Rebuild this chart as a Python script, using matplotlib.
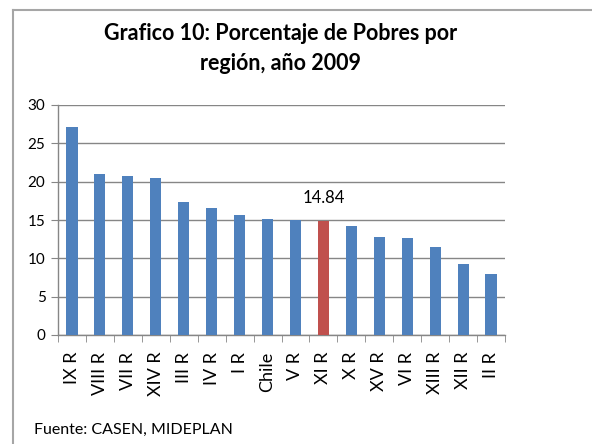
import matplotlib
matplotlib.use("Agg")
import matplotlib.pyplot as plt
from matplotlib.lines import Line2D

regions = ["IX R", "VIII R", "VII R", "XIV R", "III R", "IV R", "I R", "Chile",
           "V R", "XI R", "X R", "XV R", "VI R", "XIII R", "XII R", "II R"]
values = [27.1, 21.0, 20.8, 20.5, 17.4, 16.6, 15.6, 15.1,
          15.0, 14.84, 14.2, 12.8, 12.7, 11.5, 9.2, 8.0]
highlight = "XI R"
y_ticks = [0, 5, 10, 15, 20, 25, 30]

plt.rcParams['font.family'] = ['Lato', 'DejaVu Sans']

W, H = 592, 444
fig = plt.figure(figsize=(W/100, H/100), dpi=100)
fig.patch.set_facecolor('white')

# outer chart frame (cut off at right/bottom as in the reference)
fx, fy = 12.5/W, 1 - 10.5/H
fig.add_artist(Line2D([fx, 1.0], [fy, fy], transform=fig.transFigure,
                      color='#a6a6a6', linewidth=1.5))
fig.add_artist(Line2D([fx, fx], [0.0, fy], transform=fig.transFigure,
                      color='#a6a6a6', linewidth=1.5))

ax = fig.add_axes([58/W, 1 - 335/H, (505-58)/W, (335-105)/H])
colors = ['#c0504d' if r == highlight else '#4f81bd' for r in regions]
x = list(range(len(regions)))
ax.bar(x, values, width=0.4, color=colors, zorder=3)
ax.set_xlim(-0.5, len(regions) - 0.5)
ax.set_ylim(0, 30)
ax.set_yticks(y_ticks)
ax.set_yticklabels([str(t) for t in y_ticks], fontsize=11)
ax.yaxis.grid(True, color='#868686', linewidth=1.0, zorder=0)
ax.set_axisbelow(True)
for s in ['top', 'right']:
    ax.spines[s].set_visible(False)
for s in ['left', 'bottom']:
    ax.spines[s].set_color('#868686')
    ax.spines[s].set_linewidth(1.0)
ax.tick_params(axis='y', length=5, color='#868686', pad=4)
ax.set_xticks(x)
ax.set_xticklabels(regions, rotation=90, fontsize=13)
ax.tick_params(axis='x', length=0, pad=12)
ax.set_xticks([i - 0.5 for i in range(len(regions) + 1)], minor=True)
ax.tick_params(axis='x', which='minor', length=5, color='#868686')

hi = regions.index(highlight)
ax.annotate(f"{values[hi]:.2f}", (hi, values[hi]), xytext=(0, 17),
            textcoords='offset points', ha='center', va='center', fontsize=12)

fig.text(281/W, 1 - 48.5/H, "Grafico 10: Porcentaje de Pobres por\nregión, año 2009",
         ha='center', va='center', fontsize=15.5, fontweight='bold', linespacing=1.5)
fig.text(34/W, 1 - 430/H, "Fuente: CASEN, MIDEPLAN", ha='left', va='center', fontsize=11.5)

fig.savefig("out.png", dpi=100)
